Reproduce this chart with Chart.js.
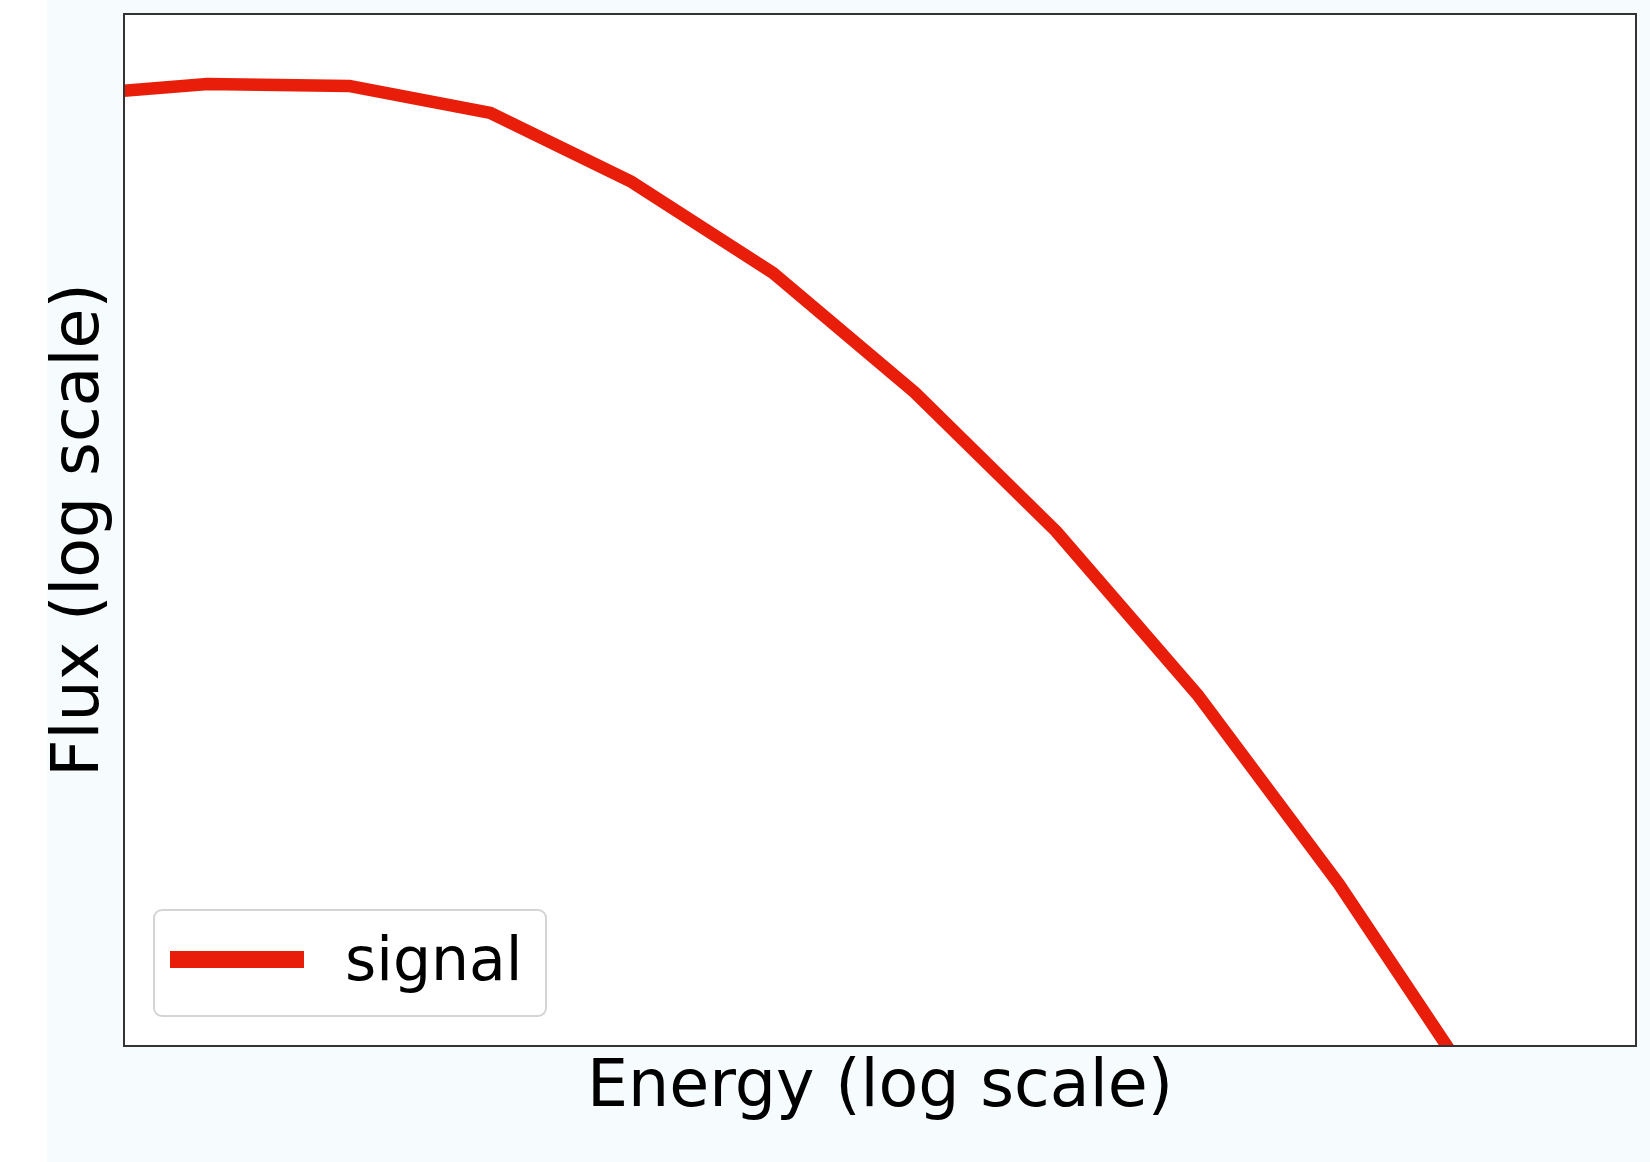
<!DOCTYPE html>
<html lang="en">
<head>
    <meta charset="UTF-8">
    <title>Signal spectrum</title>
    <script src="https://cdn.jsdelivr.net/npm/chart.js"></script>
    <style>
        body {
            margin: 0;
            padding: 0;
            background-color: #fff;
        }
    </style>
</head>
<body>
    <canvas id="spectrumChart" width="1650" height="1162"></canvas>

    <script>
        // values (arbitrary units, both axes log)
        var energy = [1, 2, 4, 8, 16, 32, 64, 128, 256, 512, 1024];
        var flux = [0.234, 0.287, 0.277, 0.171, 0.0499, 0.00982, 0.00117, 9.8e-5, 5.3e-6, 1.8e-7, 4.1e-9];
        var seriesLabel = 'signal';
        var xTitle = 'Energy (log scale)';
        var yTitle = 'Flux (log scale)';

        var lineColor = '#e81e0b';
        var fontFamily = "'DejaVu Sans', sans-serif";

        // backgrounds + axes frame
        var framePlugin = {
            id: 'frame',
            beforeDraw: function (chart) {
                var ctx = chart.ctx;
                var a = chart.chartArea;
                ctx.save();
                ctx.fillStyle = '#ffffff';
                ctx.fillRect(0, 0, chart.width, chart.height);
                ctx.fillStyle = '#f6fbfd';
                ctx.fillRect(47, 0, chart.width - 47, chart.height);
                ctx.fillStyle = '#ffffff';
                ctx.fillRect(a.left, a.top, a.right - a.left, a.bottom - a.top);
                ctx.restore();
            },
            afterDraw: function (chart) {
                var ctx = chart.ctx;
                var a = chart.chartArea;
                ctx.save();
                ctx.strokeStyle = '#333333';
                ctx.lineWidth = 2;
                ctx.strokeRect(a.left, a.top, a.right - a.left, a.bottom - a.top);
                ctx.restore();
            }
        };

        // matplotlib-like legend box in the lower left corner
        var legendPlugin = {
            id: 'boxLegend',
            afterDraw: function (chart) {
                var ctx = chart.ctx;
                var a = chart.chartArea;
                var ds = chart.data.datasets[0];
                var x = a.left + 30, y = a.bottom - 136, w = 392, h = 106, r = 8;
                ctx.save();
                ctx.beginPath();
                ctx.roundRect(x, y, w, h, r);
                ctx.fillStyle = 'rgba(255,255,255,0.85)';
                ctx.fill();
                ctx.strokeStyle = '#d4d4d4';
                ctx.lineWidth = 2;
                ctx.stroke();

                ctx.beginPath();
                ctx.moveTo(x + 16, y + 49.5);
                ctx.lineTo(x + 150, y + 49.5);
                ctx.strokeStyle = ds.borderColor;
                ctx.lineWidth = 17;
                ctx.lineCap = 'butt';
                ctx.stroke();

                ctx.fillStyle = '#000';
                ctx.font = '60px ' + fontFamily;
                ctx.textBaseline = 'alphabetic';
                ctx.fillText(ds.label, x + 191, y + 70);
                ctx.restore();
            }
        };

        var points = energy.map(function (e, i) {
            return { x: e, y: flux[i] };
        });

        var ctx = document.getElementById('spectrumChart').getContext('2d');
        var spectrumChart = new Chart(ctx, {
            type: 'line',
            data: {
                datasets: [{
                    label: seriesLabel,
                    data: points,
                    borderColor: lineColor,
                    backgroundColor: lineColor,
                    borderWidth: 12.5,
                    borderJoinStyle: 'round',
                    pointRadius: 0,
                    tension: 0,
                    fill: false,
                    clip: 0
                }]
            },
            options: {
                responsive: false,
                animation: false,
                devicePixelRatio: 1,
                layout: {
                    padding: { top: 14, right: 14, left: 0, bottom: 0 }
                },
                plugins: {
                    legend: { display: false },
                    tooltip: { enabled: false }
                },
                scales: {
                    x: {
                        type: 'logarithmic',
                        min: 1.329,
                        max: 2197,
                        grid: { display: false, drawTicks: false },
                        border: { display: false },
                        ticks: { display: false },
                        title: {
                            display: true,
                            text: xTitle,
                            color: '#000',
                            font: { family: fontFamily, size: 65, lineHeight: 1 },
                            padding: { top: 11, bottom: 40 }
                        }
                    },
                    y: {
                        type: 'logarithmic',
                        min: 1e-8,
                        max: 1,
                        grid: { display: false, drawTicks: false },
                        border: { display: false },
                        ticks: { display: false },
                        title: {
                            display: true,
                            text: yTitle,
                            color: '#000',
                            font: { family: fontFamily, size: 65, lineHeight: 1 },
                            padding: { top: 49, bottom: 10 }
                        }
                    }
                }
            },
            plugins: [framePlugin, legendPlugin]
        });
    </script>
</body>
</html>
